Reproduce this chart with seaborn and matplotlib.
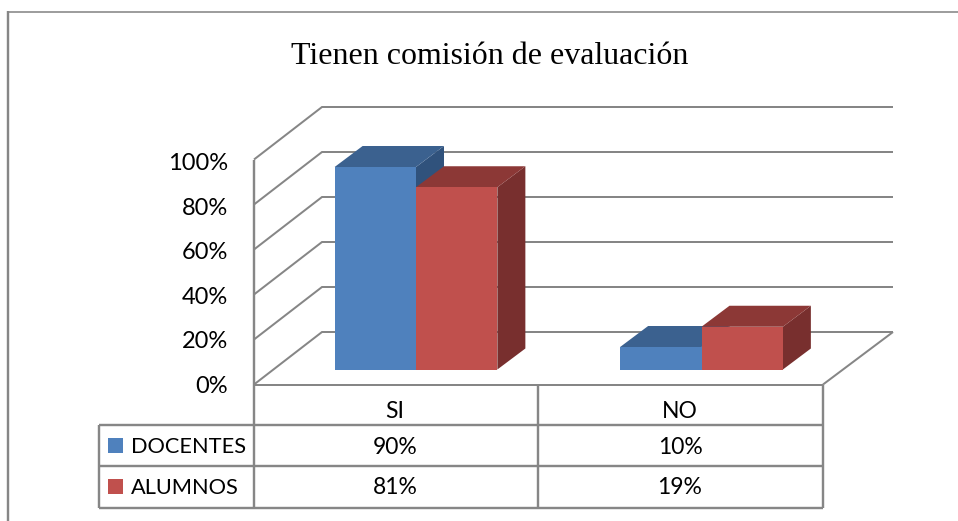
import matplotlib
matplotlib.use("Agg")
import matplotlib.pyplot as plt
import pandas as pd
import seaborn as sns
from matplotlib.patches import Polygon, Rectangle

# --- Data ---
categories = ["SI", "NO"]
series_names = ["DOCENTES", "ALUMNOS"]
docentes = [90, 10]
alumnos = [81, 19]
y_ticks = [0, 20, 40, 60, 80, 100]

# --- Colours (front, top, side) ---
colors = {
    "DOCENTES": ("#4F81BD", "#3B618F", "#30527C"),
    "ALUMNOS": ("#C0504D", "#8C3836", "#782F2E"),
}
LINE = "#868686"

W, H = 958, 521
sns.set_theme(style="white")
plt.rcParams["font.family"] = ["Lato", "DejaVu Sans"]

df = pd.DataFrame({
    "cat": categories * 2,
    "serie": [series_names[0]] * 2 + [series_names[1]] * 2,
    "valor": docentes + alumnos,
})

fig = plt.figure(figsize=(W / 100, H / 100), dpi=100, facecolor="white")

# --- Background layer in pixel coordinates: frame, walls, table ---
bg = fig.add_axes([0, 0, 1, 1])
bg.set_xlim(0, W)
bg.set_ylim(H, 0)
bg.axis("off")


def line(xs, ys, lw=2.0):
    bg.plot(xs, ys, color=LINE, lw=lw * 0.72, solid_capstyle="butt", solid_joinstyle="miter")


line([8.5, 8.5], [11, H], lw=2.4)
line([8, W], [11.5, 11.5], lw=1.6)

y0_front, px_per_pct = 384.5, 2.25
for v in y_ticks:
    y = y0_front - v * px_per_pct
    line([254, 322, 893], [y, y - 52.5, y - 52.5])
    # labels sit a little lower than the ticks, more so towards the top
    bg.text(228, y + 2 + v * 0.02, f"{v}%", ha="right", va="center", fontsize=17, color="black")

# floor and table grid
line([893, 823], [332, 384.5])
line([254, 254], [159.5, 508], lw=2.4)
line([254, 823], [384.5, 384.5])
for x in [538, 823]:
    line([x, x], [384.5, 508], lw=2.4)
for y in [425, 466, 508]:
    line([99, 823], [y, y], lw=2.4)
line([99, 99], [425, 508], lw=2.4)

# table text
col_x = [395, 680]
for x, c in zip(col_x, categories):
    bg.text(x, 411, c, ha="center", va="center", fontsize=16.5, color="black")
rows = [(446, series_names[0], docentes), (487, series_names[1], alumnos)]
for y, name, vals in rows:
    bg.add_patch(Rectangle((108, y - 8), 15, 15, color=colors[name][0], lw=0))
    bg.text(131, y + 1, name, ha="left", va="center", fontsize=15.7, color="black")
    for x, v in zip(col_x, vals):
        bg.text(x, y + 1, f"{v}%", ha="center", va="center", fontsize=16.5, color="black")

# title
bg.text(489.5, 56, "Tienen comisión de evaluación", ha="center", va="center",
        fontsize=22.95, family="Liberation Serif", color="black")

# --- Bars: plane sits 14.5 px above the front floor edge ---
left, right, y_base = 273.25, 844.25, 369.5
ax = fig.add_axes([left / W, 1 - y_base / H, (right - left) / W, 225 / H])
ax.patch.set_alpha(0)
sns.barplot(data=df, x="cat", y="valor", hue="serie", order=categories,
            hue_order=series_names, palette={k: v[0] for k, v in colors.items()},
            width=0.57, gap=0, saturation=1, legend=False, edgecolor="none", linewidth=0, ax=ax)
ax.set_xlim(-0.5, 1.5)
ax.set_ylim(0, 100)
ax.axis("off")

# depth of the extruded faces, in data units
dx = 28 / ((right - left) / 2)
dy = 21 / px_per_pct

for i, bar in enumerate(ax.patches[:4]):
    name = series_names[i // 2]
    _, top_c, side_c = colors[name]
    base_z = 2 + 3 * (i // 2)
    x0, x1, h = bar.get_x(), bar.get_x() + bar.get_width(), bar.get_height()
    side = Polygon([(x1, 0), (x1 + dx, dy), (x1 + dx, h + dy), (x1, h)],
                   facecolor=side_c, edgecolor="none", clip_on=False, zorder=base_z)
    top = Polygon([(x0, h), (x0 + dx, h + dy), (x1 + dx, h + dy), (x1, h)],
                  facecolor=top_c, edgecolor="none", clip_on=False, zorder=base_z)
    ax.add_patch(side)
    ax.add_patch(top)
    bar.set_zorder(base_z + 1)

fig.savefig("out.png", dpi=100)
